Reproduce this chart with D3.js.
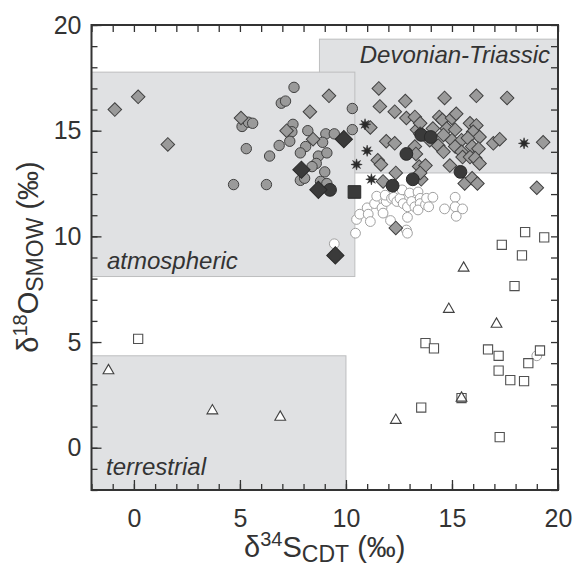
<!DOCTYPE html>
<html>
<head>
<meta charset="utf-8">
<script src="https://cdn.jsdelivr.net/npm/d3@7"></script>
<style>
  html, body { margin: 0; padding: 0; background: #fff; }
  svg { display: block; font-family: "Liberation Sans", Arial, sans-serif; }
</style>
</head>
<body>
<svg id="chart" width="576" height="570"></svg>
<script>
// Sulfate isotope data: δ34S (x) vs δ18O (y), both in ‰
const xTicks = [0, 5, 10, 15, 20];
const yTicks = [0, 5, 10, 15, 20];

// Reference fields [x0, x1, y0, y1]
const fieldDevonian = [8.75, 20, 13.0, 19.33];
const fieldAtmospheric = [-2, 10.42, 8.1, 17.77];
const fieldTerrestrial = [-2, 10.0, -2, 4.35];

const openCircles = [
  [9.45, 9.65], [10.45, 10.15], [10.5, 10.8], [10.65, 11.05], [11.0, 11.35], [11.05, 11.05],
  [11.15, 10.7], [11.35, 11.55], [11.45, 11.9], [11.7, 11.35], [11.75, 11.1], [11.9, 11.65],
  [11.85, 11.95], [12.1, 10.75], [12.15, 11.8], [12.25, 11.85], [12.4, 11.65], [12.55, 11.8],
  [12.65, 12.2], [12.7, 11.55], [12.9, 11.4], [12.9, 10.9], [13.0, 12.05], [13.1, 11.65],
  [13.25, 11.4], [13.4, 12.1], [13.5, 11.8], [13.5, 11.55], [13.4, 11.25], [13.75, 11.5],
  [13.8, 11.8], [13.9, 11.4], [14.1, 11.85], [12.85, 10.3], [12.9, 10.15], [14.65, 11.3],
  [15.15, 11.85], [15.15, 11.4], [15.5, 11.3], [15.2, 10.95], [19.0, 4.35]
];

const grayCircles = [
  [7.55, 17.05], [6.95, 16.3], [7.15, 16.4], [5.1, 15.2], [5.4, 15.4], [5.6, 15.35],
  [7.5, 15.3], [7.45, 14.95], [7.35, 14.5], [5.3, 14.15], [6.85, 14.3], [6.4, 13.8],
  [4.7, 12.45], [6.25, 12.45], [8.2, 15.0], [9.05, 14.85], [9.45, 14.85], [8.9, 14.45],
  [8.1, 14.25], [7.85, 13.95], [8.7, 13.8], [9.1, 13.95], [8.6, 13.45], [8.4, 13.3],
  [9.0, 13.05], [7.85, 12.65], [8.05, 12.75], [8.8, 12.6], [9.1, 12.5], [10.3, 16.05],
  [10.3, 15.05]
];

const grayDiamonds = [
  [-0.9, 16.0], [0.2, 16.6], [1.6, 14.35], [5.05, 15.6], [7.2, 15.0], [8.3, 15.9],
  [8.45, 14.6], [9.2, 16.65], [11.55, 17.0], [11.6, 16.15], [11.15, 15.15], [11.9, 14.5],
  [12.3, 14.4], [11.5, 13.6], [11.65, 13.4], [11.75, 12.6], [12.35, 13.0], [12.3, 15.9],
  [12.8, 16.4], [12.85, 15.6], [13.25, 15.65], [13.35, 15.05], [13.5, 15.35], [14.65, 16.55],
  [16.15, 16.65], [17.6, 16.55], [13.25, 14.25], [13.3, 13.9], [13.45, 13.3], [13.75, 13.35],
  [13.55, 12.7], [13.5, 13.0], [14.1, 15.1], [13.5, 14.85], [13.95, 14.55], [14.4, 15.65],
  [14.55, 15.5], [15.0, 15.6], [15.2, 15.8], [14.75, 15.1], [15.15, 15.05], [14.6, 14.8],
  [15.0, 14.55], [15.45, 14.55], [14.35, 14.3], [14.6, 14.0], [15.15, 14.25], [15.45, 14.0],
  [14.9, 13.35], [15.5, 13.75], [15.85, 15.35], [16.15, 15.25], [16.0, 14.95], [16.3, 14.7],
  [15.75, 14.65], [15.95, 14.25], [16.25, 14.15], [15.85, 13.75], [16.1, 13.7], [16.3, 13.45],
  [16.95, 14.4], [17.25, 14.6], [19.3, 14.45], [15.6, 12.5], [15.95, 12.75], [16.2, 12.5],
  [19.0, 12.3], [12.35, 10.4]
];

const darkCircles = [
  [13.55, 14.8], [14.0, 14.7], [12.85, 13.9], [15.4, 13.05], [13.15, 12.7], [12.2, 12.4], [9.25, 12.2]
];
const darkDiamonds = [[9.9, 14.6], [7.9, 13.15], [8.7, 12.2], [9.5, 9.1]];
const darkSquares = [[10.4, 12.1]];
const stars = [[10.9, 15.3], [11.0, 14.05], [10.5, 13.4], [11.2, 12.7], [18.4, 14.4]];

const openSquares = [
  [0.2, 5.15], [17.95, 7.65], [13.75, 4.95], [14.15, 4.7], [16.7, 4.65], [17.2, 4.35],
  [17.2, 3.65], [17.75, 3.2], [18.4, 3.15], [18.6, 4.0], [19.15, 4.6], [13.55, 1.9],
  [15.45, 2.35], [17.25, 0.5], [18.45, 10.2], [19.35, 9.95], [17.35, 9.6], [18.3, 9.1]
];
const openTriangles = [
  [-1.2, 3.65], [3.7, 1.75], [6.9, 1.45], [14.85, 6.55], [17.1, 5.85], [12.35, 1.3],
  [15.45, 2.35], [15.55, 8.5]
];

const svg = d3.select("#chart");
const plotLeft = 91.5, plotRight = 558, plotTop = 25, plotBottom = 490;
const x = d3.scaleLinear().domain([-2, 20]).range([plotLeft, plotRight]);
const y = d3.scaleLinear().domain([-2, 20]).range([plotBottom, plotTop]);

const ink = "#333";
const shade = "#e0e1e3";
const shadeEdge = "#bdbebf";

// Reference fields
function field(r) {
  svg.append("rect")
    .attr("x", x(r[0])).attr("y", y(r[3]))
    .attr("width", x(r[1]) - x(r[0])).attr("height", y(r[2]) - y(r[3]))
    .attr("fill", shade).attr("stroke", shadeEdge).attr("stroke-width", 1);
}
field(fieldDevonian);
field(fieldAtmospheric);
field(fieldTerrestrial);

const fieldLabels = [
  { text: "Devonian-Triassic", x: 550, y: 63, anchor: "end" },
  { text: "atmospheric", x: 107, y: 269, anchor: "start" },
  { text: "terrestrial", x: 106, y: 475, anchor: "start" }
];
svg.selectAll("text.field").data(fieldLabels).join("text")
  .attr("class", "field")
  .attr("x", d => d.x).attr("y", d => d.y)
  .attr("text-anchor", d => d.anchor)
  .attr("font-size", 24).attr("font-style", "italic").attr("fill", ink)
  .text(d => d.text);

// Markers
const plot = svg.append("g");
const sym = (type, size) => d3.symbol().type(type).size(size)();

function markers(data, pathStr, fill, stroke, sw, rot) {
  plot.append("g").selectAll("path").data(data).join("path")
    .attr("transform", d => `translate(${x(d[0])},${y(d[1])})` + (rot ? ` rotate(${rot})` : ""))
    .attr("d", pathStr)
    .attr("fill", fill).attr("stroke", stroke).attr("stroke-width", sw);
}

const starPath = (() => {
  const pts = [];
  for (let i = 0; i < 16; i++) {
    const r = i % 2 === 0 ? 5.6 : 2.3;
    const a = (Math.PI / 8) * i - Math.PI / 2;
    pts.push([r * Math.cos(a), r * Math.sin(a)]);
  }
  return "M" + pts.map(p => p.join(",")).join("L") + "Z";
})();

markers(openCircles, sym(d3.symbolCircle, Math.PI * 4.9 * 4.9), "#fff", "#a0a0a0", 1);
markers(grayCircles, sym(d3.symbolCircle, Math.PI * 5.2 * 5.2), "#9a9a9a", "#404040", 1);
markers(grayDiamonds, sym(d3.symbolSquare, 9.6 * 9.6), "#9a9a9a", "#404040", 1, 45);
markers(darkCircles, sym(d3.symbolCircle, Math.PI * 6.4 * 6.4), "#3a3a3a", "#2a2a2a", 1);
markers(darkDiamonds, sym(d3.symbolSquare, 12.2 * 12.2), "#3a3a3a", "#2a2a2a", 1, 45);
markers(darkSquares, sym(d3.symbolSquare, 12.6 * 12.6), "#3a3a3a", "#2a2a2a", 1);
markers(stars, starPath, "#2a2a2a", "#2a2a2a", 0.6);
markers(openSquares, sym(d3.symbolSquare, 9.2 * 9.2), "#fff", "#505050", 1.1);
markers(openTriangles, sym(d3.symbolTriangle, 50), "#fff", "#404040", 1.1);

// Axes: inward minor ticks at every unit, longer major ticks at every 5
const minor = d3.range(-2, 21);
function axisGroup(axis, tx, ty) {
  const g = svg.append("g").attr("transform", `translate(${tx},${ty})`).call(axis);
  g.select(".domain").remove();
  g.selectAll("line").attr("stroke", ink).attr("stroke-width", 1.3);
  g.selectAll("text").attr("fill", ink).attr("font-size", 25)
    .attr("font-family", "'Liberation Sans', Arial, sans-serif");
  return g;
}
axisGroup(d3.axisBottom(x).tickValues(minor).tickSizeInner(-6).tickSizeOuter(0).tickFormat(""), 0, plotBottom);
axisGroup(d3.axisBottom(x).tickValues(xTicks).tickSizeInner(-10).tickSizeOuter(0).tickPadding(19).tickFormat(d3.format("d")), 0, plotBottom);
axisGroup(d3.axisTop(x).tickValues(minor).tickSizeInner(-7).tickSizeOuter(0).tickFormat(""), 0, plotTop);
axisGroup(d3.axisLeft(y).tickValues(minor).tickSizeInner(-6).tickSizeOuter(0).tickFormat(""), plotLeft, 0);
axisGroup(d3.axisLeft(y).tickValues(yTicks).tickSizeInner(-10).tickSizeOuter(0).tickPadding(10).tickFormat(d3.format("d")), plotLeft, 0);
axisGroup(d3.axisRight(y).tickValues(minor).tickSizeInner(-7).tickSizeOuter(0).tickFormat(""), plotRight, 0);

svg.append("rect")
  .attr("x", plotLeft).attr("y", plotTop).attr("width", plotRight - plotLeft).attr("height", plotBottom - plotTop)
  .attr("fill", "none").attr("stroke", ink).attr("stroke-width", 2);

// Axis titles
const xt = svg.append("text")
  .attr("x", (plotLeft + plotRight) / 2).attr("y", 557)
  .attr("text-anchor", "middle").attr("font-size", 29).attr("fill", ink);
xt.append("tspan").text("δ");
xt.append("tspan").attr("font-size", 20).attr("dy", -11).text("34");
xt.append("tspan").attr("dy", 11).text("S");
xt.append("tspan").attr("font-size", 23).attr("dy", 5).text("CDT");
xt.append("tspan").attr("dy", -5).text(" (‰)");

const yt = svg.append("text")
  .attr("transform", `translate(38,257) rotate(-90)`)
  .attr("text-anchor", "middle").attr("font-size", 29).attr("fill", ink);
yt.append("tspan").text("δ");
yt.append("tspan").attr("font-size", 20).attr("dy", -11).text("18");
yt.append("tspan").attr("dy", 11).text("O");
yt.append("tspan").attr("font-size", 23).attr("dy", 5).text("SMOW");
yt.append("tspan").attr("dy", -5).text(" (‰)");
</script>
</body>
</html>
